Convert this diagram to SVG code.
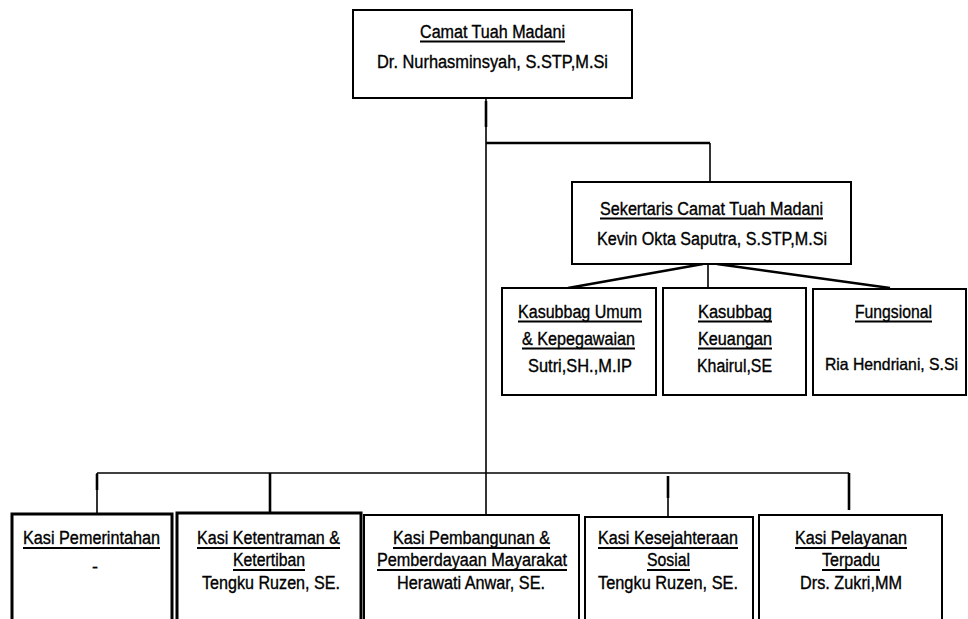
<svg xmlns="http://www.w3.org/2000/svg" width="968" height="619" viewBox="0 0 968 619">
<style>
.bg{fill:#fff}
.box{fill:#fff;stroke:#000;stroke-width:2}
.boxb{fill:#fff;stroke:#000;stroke-width:3}
text{font-family:"Liberation Sans",Arial,sans-serif;font-size:18px;fill:#000;stroke:#000;stroke-width:0.35;text-anchor:middle}
.sm{font-size:16.5px}
.ul{stroke:#000;stroke-width:2}
.c{stroke:#000;fill:none;stroke-width:1.6}
.ct{stroke:#000;fill:none;stroke-width:2.6}
</style>
<rect class="bg" x="0" y="0" width="968" height="619"/>
<g id="connectors">
  <line class="c" x1="486" y1="98" x2="486" y2="515"/>
  <line class="ct" x1="486" y1="101" x2="486" y2="127"/>
  <line class="ct" x1="486" y1="143" x2="710" y2="143"/>
  <line class="c" x1="710" y1="143" x2="710" y2="182"/>
  <line class="ct" x1="703" y1="264" x2="568" y2="288"/>
  <line class="c" x1="708" y1="264" x2="708" y2="288"/>
  <line class="ct" x1="717" y1="264" x2="890" y2="288"/>
  <line class="c" x1="97" y1="473" x2="849" y2="473"/>
  <line class="c" x1="97" y1="473" x2="97" y2="514"/>
  <line class="ct" x1="97" y1="474" x2="97" y2="490"/>
  <line class="ct" x1="270" y1="473" x2="270" y2="513"/>
  <line class="c" x1="668" y1="476" x2="668" y2="517"/>
  <line class="ct" x1="668" y1="476" x2="668" y2="498"/>
  <line class="ct" x1="849" y1="473" x2="849" y2="510"/>
</g>
<g id="camat">
  <rect class="box" x="353" y="10" width="279" height="88"/>
  <text x="492.5" y="38" textLength="145" lengthAdjust="spacingAndGlyphs">Camat Tuah Madani</text>
  <line class="ul" x1="420" y1="41.5" x2="565" y2="41.5"/>
  <text x="492.5" y="68" textLength="231" lengthAdjust="spacingAndGlyphs">Dr. Nurhasminsyah, S.STP,M.Si</text>
</g>
<g id="sekertaris">
  <rect class="box" x="572" y="182" width="279" height="82"/>
  <text x="711.5" y="215" textLength="223" lengthAdjust="spacingAndGlyphs">Sekertaris Camat Tuah Madani</text>
  <line class="ul" x1="600" y1="218.5" x2="823" y2="218.5"/>
  <text x="712" y="245" textLength="230" lengthAdjust="spacingAndGlyphs">Kevin Okta Saputra, S.STP,M.Si</text>
</g>
<g id="kasubbag-umum">
  <rect class="box" x="502" y="288" width="154" height="107"/>
  <text x="580" y="318" textLength="124" lengthAdjust="spacingAndGlyphs">Kasubbag Umum</text>
  <line class="ul" x1="518" y1="321.5" x2="642" y2="321.5"/>
  <text x="578.5" y="345" textLength="113" lengthAdjust="spacingAndGlyphs">&amp; Kepegawaian</text>
  <line class="ul" x1="522" y1="348.5" x2="635" y2="348.5"/>
  <text x="580" y="372" textLength="104" lengthAdjust="spacingAndGlyphs">Sutri,SH.,M.IP</text>
</g>
<g id="kasubbag-keuangan">
  <rect class="box" x="663" y="288" width="143" height="107"/>
  <text x="735" y="318" textLength="74" lengthAdjust="spacingAndGlyphs">Kasubbag</text>
  <line class="ul" x1="698" y1="321.5" x2="772" y2="321.5"/>
  <text x="735" y="345" textLength="74" lengthAdjust="spacingAndGlyphs">Keuangan</text>
  <line class="ul" x1="698" y1="348.5" x2="772" y2="348.5"/>
  <text x="734.5" y="372" textLength="75" lengthAdjust="spacingAndGlyphs">Khairul,SE</text>
</g>
<g id="fungsional">
  <rect class="box" x="813" y="289" width="153" height="106"/>
  <text x="893.5" y="318" textLength="77" lengthAdjust="spacingAndGlyphs">Fungsional</text>
  <line class="ul" x1="855" y1="321.5" x2="932" y2="321.5"/>
  <text class="sm" x="891.5" y="370" textLength="133" lengthAdjust="spacingAndGlyphs">Ria Hendriani, S.Si</text>
</g>
<g id="kasi-pemerintahan">
  <rect class="boxb" x="12" y="514" width="160" height="115"/>
  <text x="91.5" y="544" textLength="137" lengthAdjust="spacingAndGlyphs">Kasi Pemerintahan</text>
  <line class="ul" x1="23" y1="548" x2="160" y2="548"/>
  <text x="95" y="573">-</text>
</g>
<g id="kasi-ketentraman">
  <rect class="boxb" x="177" y="513" width="184" height="116"/>
  <text x="268.5" y="544" textLength="143" lengthAdjust="spacingAndGlyphs">Kasi Ketentraman &amp;</text>
  <line class="ul" x1="197" y1="548" x2="340" y2="548"/>
  <text x="269" y="566" textLength="72" lengthAdjust="spacingAndGlyphs">Ketertiban</text>
  <line class="ul" x1="233" y1="570" x2="305" y2="570"/>
  <text x="271" y="589" textLength="138" lengthAdjust="spacingAndGlyphs">Tengku Ruzen, SE.</text>
</g>
<g id="kasi-pembangunan">
  <rect class="box" x="364" y="515" width="215" height="114"/>
  <text x="471.5" y="544" textLength="157" lengthAdjust="spacingAndGlyphs">Kasi Pembangunan &amp;</text>
  <line class="ul" x1="393" y1="548" x2="550" y2="548"/>
  <text x="472" y="566" textLength="190" lengthAdjust="spacingAndGlyphs">Pemberdayaan Mayarakat</text>
  <line class="ul" x1="377" y1="570" x2="567" y2="570"/>
  <text x="471" y="589" textLength="148" lengthAdjust="spacingAndGlyphs">Herawati Anwar, SE.</text>
</g>
<g id="kasi-kesejahteraan">
  <rect class="box" x="585" y="517" width="168" height="112"/>
  <text x="668" y="544" textLength="140" lengthAdjust="spacingAndGlyphs">Kasi Kesejahteraan</text>
  <line class="ul" x1="598" y1="548" x2="738" y2="548"/>
  <text x="668.5" y="566" textLength="43" lengthAdjust="spacingAndGlyphs">Sosial</text>
  <line class="ul" x1="647" y1="570" x2="690" y2="570"/>
  <text x="668" y="589" textLength="140" lengthAdjust="spacingAndGlyphs">Tengku Ruzen, SE.</text>
</g>
<g id="kasi-pelayanan">
  <rect class="box" x="759" y="515" width="183" height="114"/>
  <text x="851" y="544" textLength="112" lengthAdjust="spacingAndGlyphs">Kasi Pelayanan</text>
  <line class="ul" x1="795" y1="548" x2="907" y2="548"/>
  <text x="851" y="566" textLength="58" lengthAdjust="spacingAndGlyphs">Terpadu</text>
  <line class="ul" x1="822" y1="570" x2="880" y2="570"/>
  <text x="851" y="589" textLength="102" lengthAdjust="spacingAndGlyphs">Drs. Zukri,MM</text>
</g>
</svg>
